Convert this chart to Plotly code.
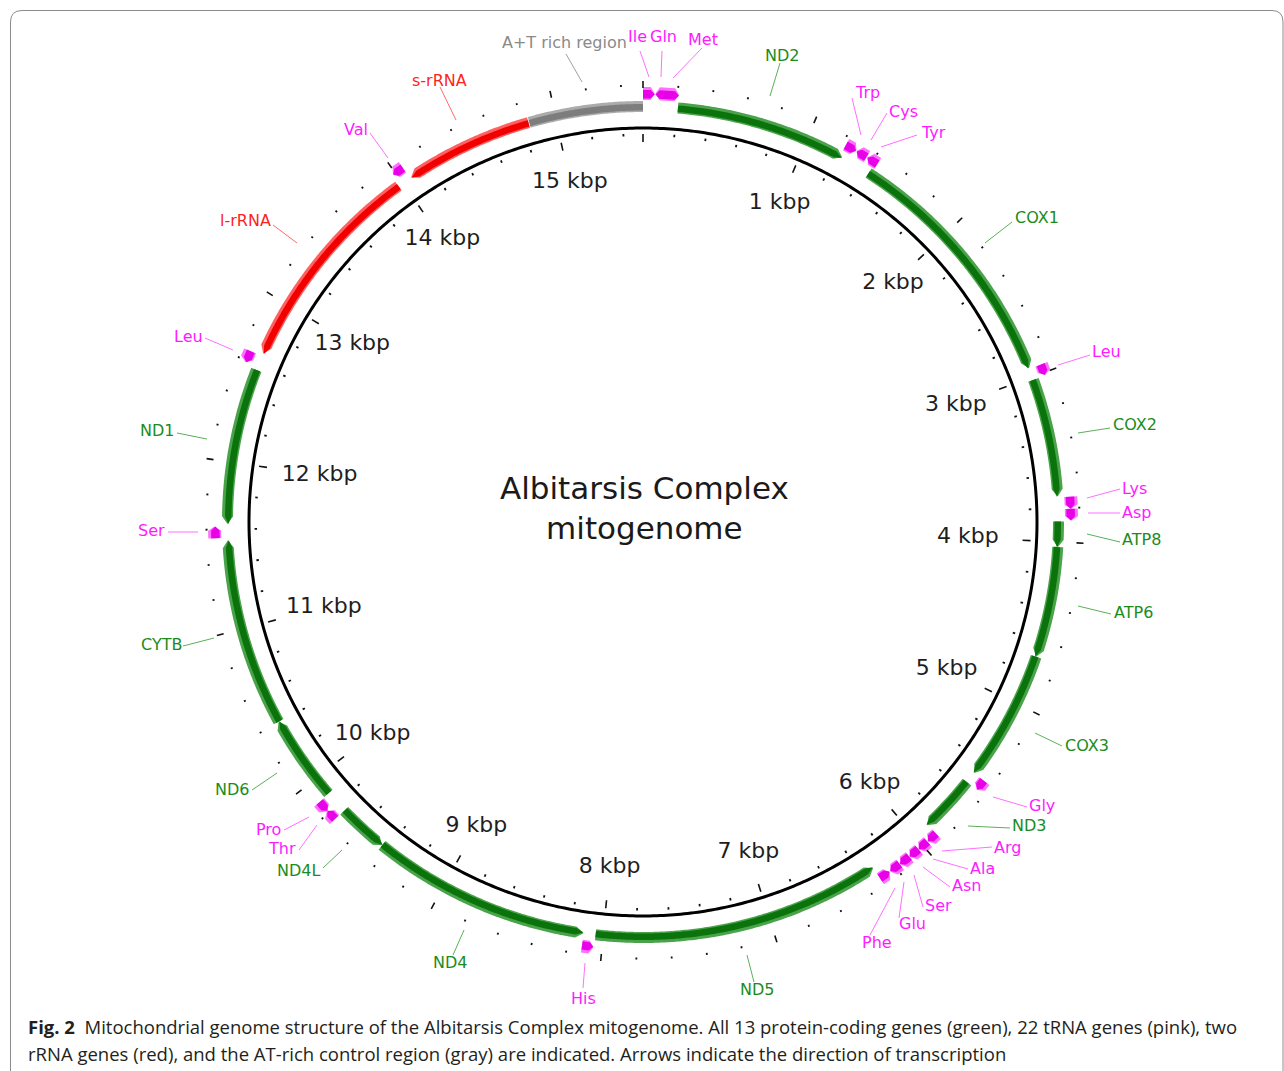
import numpy as np
import plotly.graph_objects as go

# ---------------------------------------------------------------- data
GENOME_LEN = 15525  # bp

feat_name = ["Ile", "Gln", "Met", "ND2", "Trp", "Cys", "Tyr", "COX1", "Leu", "COX2",
             "Lys", "Asp", "ATP8", "ATP6", "COX3", "Gly", "ND3", "Arg", "Ala", "Asn",
             "Ser", "Glu", "Phe", "ND5", "His", "ND4", "ND4L", "Thr", "Pro", "ND6",
             "CYTB", "Ser", "ND1", "Leu", "l-rRNA", "Val", "s-rRNA", "A+T rich region"]
feat_kind = ["trna", "trna", "trna", "gene", "trna", "trna", "trna", "gene", "trna", "gene",
             "trna", "trna", "gene", "gene", "gene", "trna", "gene", "trna", "trna", "trna",
             "trna", "trna", "trna", "gene", "trna", "gene", "gene", "trna", "trna", "gene",
             "gene", "trna", "gene", "trna", "rrna", "trna", "rrna", "ctrl"]
feat_start = [0, 72, 140, 208, 1220, 1292, 1364, 1418, 2950, 3018,
              3735, 3805, 3878, 4030, 4697, 5486, 5553, 5898, 5966, 6034,
              6102, 6172, 6245, 6312, 8050, 8118, 9440, 9748, 9812, 9885,
              10405, 11550, 11632, 12590, 12675, 13985, 14062, 14840]
feat_end = [68, 140, 208, 1235, 1288, 1358, 1432, 2945, 3015, 3730,
            3805, 3872, 4032, 4697, 5483, 5550, 5903, 5962, 6032, 6100,
            6170, 6240, 6312, 8045, 8116, 9440, 9745, 9812, 9880, 10405,
            11535, 11618, 12570, 12658, 13970, 14052, 14835, 15525]
feat_strand = [1, -1, 1, 1, 1, -1, -1, 1, 1, 1,
               1, 1, 1, 1, 1, 1, 1, 1, 1, 1,
               1, 1, -1, -1, -1, -1, -1, 1, -1, 1,
               1, 1, -1, -1, -1, -1, -1, 0]

tick_step = 200
kbp_marks = list(range(1, 16))

# feature labels: text, colour group, leader line (inner -> outer), text anchor point
lab_text = ["A+T rich region", "Ile", "Gln", "Met", "ND2", "Trp", "Cys", "Tyr",
            "COX1", "Leu", "COX2", "Lys", "Asp", "ATP8", "ATP6", "COX3", "Gly", "ND3",
            "Arg", "Ala", "Asn", "Ser", "Glu", "Phe", "ND5", "His", "ND4",
            "ND4L", "Thr", "Pro", "ND6", "CYTB", "Ser", "ND1", "Leu", "l-rRNA", "Val", "s-rRNA"]
lab_kind = ["ctrl", "trna", "trna", "trna", "gene", "trna", "trna", "trna",
            "gene", "trna", "gene", "trna", "trna", "gene", "gene", "gene", "trna", "gene",
            "trna", "trna", "trna", "trna", "trna", "trna", "gene", "trna", "gene",
            "gene", "trna", "trna", "gene", "gene", "trna", "gene", "trna", "rrna", "trna", "rrna"]
lab_line = [(582, 82, 566, 54), (649, 77, 640, 51), (661, 77, 662, 51), (673, 78, 702, 48),
            (770, 96, 780, 63), (861, 135, 852, 98), (871, 140, 887, 113), (881, 147, 917, 135),
            (985, 243, 1012, 222), (1058, 365, 1090, 355), (1078, 433, 1110, 428),
            (1087, 498, 1120, 489), (1088, 513, 1120, 513), (1087, 534, 1120, 542),
            (1078, 606, 1111, 614), (1035, 733, 1062, 746), (993, 797, 1027, 807),
            (968, 826, 1010, 828), (942, 851, 992, 847), (933, 859, 968, 869),
            (923, 867, 950, 887), (914, 875, 923, 907), (904, 882, 899, 918),
            (895, 888, 870, 935), (747, 955, 754, 982), (585, 963, 583, 988),
            (464, 930, 453, 955), (342, 850, 323, 868), (317, 825, 299, 850),
            (309, 817, 284, 830), (277, 773, 252, 790), (214, 638, 183, 646),
            (198, 532, 168, 532), (207, 439, 177, 433), (233, 350, 205, 338),
            (297, 243, 273, 225), (388, 158, 370, 133), (456, 120, 440, 87)]
lab_pos = [(564, 42), (637, 36), (663, 36), (703, 39), (782, 55), (853, 92), (887, 111),
           (919, 132), (1013, 217), (1090, 351), (1111, 424), (1120, 488), (1120, 512),
           (1120, 539), (1112, 612), (1063, 745), (1027, 805), (1010, 825), (992, 847),
           (968, 868), (950, 885), (923, 905), (897, 923), (877, 942), (757, 989),
           (583, 998), (450, 962), (322, 870), (298, 848), (283, 829), (251, 789),
           (184, 644), (167, 530), (176, 430), (205, 336), (273, 220), (370, 129), (439, 80)]
lab_anchor = ["center", "center", "center", "center", "center", "left", "left", "left",
              "left", "left", "left", "left", "left", "left", "left", "left", "left", "left",
              "left", "left", "left", "left", "left", "center", "center", "center", "center",
              "right", "right", "right", "right", "right", "right", "right", "right", "right",
              "right", "center"]

caption_1 = ("<b>Fig. 2</b>\u00a0\u00a0Mitochondrial genome structure of the Albitarsis Complex "
             "mitogenome. All 13 protein-coding genes (green), 22 tRNA genes (pink), two")
caption_2 = ("rRNA genes (red), and the AT-rich control region (gray) are indicated. "
             "Arrows indicate the direction of transcription")

# ---------------------------------------------------------------- styling
W, H = 1284, 1071
CX, CY, RPIX = 643, 522, 520          # circle centre and polar radius in pixels
R_BACKBONE = 394
LANE = {"gene": (410, 421), "rrna": (410, 421), "ctrl": (410, 421), "trna": (422, 435)}
FILL_CORE = {"gene": "#0b730b", "trna": "#e800e8", "rrna": "#f20000", "ctrl": "#7d7d7d"}
FILL_EDGE = {"gene": "#4aa34a", "trna": "#ff70ff", "rrna": "#ff6060", "ctrl": "#ababab"}
TEXT_COL = {"gene": "#1b8c1b", "trna": "#ff1aff", "rrna": "#ff1f1f", "ctrl": "#8a8a8a"}
LINE_COL = {"gene": "#5cb05c", "trna": "#ff70ff", "rrna": "#ff6a6a", "ctrl": "#a0a0a0"}
FONT = "DejaVu Sans"


def deg(bp):
    return np.asarray(bp, dtype=float) / GENOME_LEN * 360.0


def arrow_outline(s, e, strand, r0, r1, head):
    """Outline (r, theta) of an arc block with an arrow tip on its 3' end."""
    h = min(head, 0.45 * (e - s)) if strand else 0.0
    rm = 0.5 * (r0 + r1)
    if strand >= 0:
        a, b = s, e - h
    else:
        a, b = s + h, e
    n = max(int((b - a) / 12), 2)
    arc = np.linspace(a, b, n)
    r = list(np.full(n, r1)) + list(np.full(n, r0))
    t = list(arc) + list(arc[::-1])
    if strand > 0:
        r = list(np.full(n, r1)) + [rm] + list(np.full(n, r0))
        t = list(arc) + [e] + list(arc[::-1])
    elif strand < 0:
        r = r + [rm]
        t = t + [s]
    r.append(r[0])
    t.append(t[0])
    return r, list(deg(t))


fig = go.Figure()

# feature blocks, grouped by colour: lighter rim first, darker core on top
for kind in ["ctrl", "rrna", "gene", "trna"]:
    for layer in ("edge", "core"):
        rr, tt = [], []
        for s, e, st, k in zip(feat_start, feat_end, feat_strand, feat_kind):
            if k != kind:
                continue
            r0, r1 = LANE[k]
            head = 24 if k == "trna" else 45
            if layer == "core":
                r0, r1 = r0 + 1.5, r1 - 3.0
            r, t = arrow_outline(s, e, st, r0, r1, head)
            rr += r + [None]
            tt += t + [None]
        fig.add_trace(go.Scatterpolar(
            r=rr, theta=tt, mode="lines", fill="toself",
            fillcolor=FILL_EDGE[kind] if layer == "edge" else FILL_CORE[kind],
            line=dict(width=0), hoverinfo="skip", showlegend=False))

# backbone circle
circ_t = np.linspace(0, 360, 721)
fig.add_trace(go.Scatterpolar(r=np.full(circ_t.size, R_BACKBONE), theta=circ_t, mode="lines",
                              line=dict(color="#000000", width=3), hoverinfo="skip",
                              showlegend=False))

# scale ticks (inside the backbone and on an outer ring)
tick_bp = np.arange(0, GENOME_LEN, tick_step)
for major in (False, True):
    sel = tick_bp[(tick_bp % 1000 == 0) == major]
    rr, tt = [], []
    for bp in sel:
        th = float(deg(bp))
        inner = (380, 388) if major else (386, 388.5)
        outer = (434, 441) if major else (435.5, 437.5)
        for a, b in (inner, outer):
            rr += [a, b, None]
            tt += [th, th, None]
    fig.add_trace(go.Scatterpolar(r=rr, theta=tt, mode="lines",
                                  line=dict(color="#111111", width=1.6 if major else 1.8),
                                  hoverinfo="skip", showlegend=False))

# kbp scale labels
kbp_bp = np.array(kbp_marks) * 1000
kbp_t = deg(kbp_bp)
kbp_r = 347 - 22 * np.abs(np.sin(np.radians(kbp_t))) ** 8
fig.add_trace(go.Scatterpolar(r=kbp_r, theta=kbp_t, mode="text",
                              text=[f"{k} kbp" for k in kbp_marks],
                              textfont=dict(family=FONT, size=22, color="#1e1e1e"),
                              cliponaxis=False, hoverinfo="skip", showlegend=False))

# leader lines for the feature labels
for kind in ["gene", "trna", "rrna", "ctrl"]:
    xs, ys = [], []
    for (x1, y1, x2, y2), k in zip(lab_line, lab_kind):
        if k == kind:
            xs += [x1, x2, None]
            ys += [y1, y2, None]
    fig.add_trace(go.Scatter(x=xs, y=ys, mode="lines", line=dict(color=LINE_COL[kind], width=1),
                             hoverinfo="skip", showlegend=False, xaxis="x", yaxis="y"))

annotations = []
for txt, k, (x, y), anc in zip(lab_text, lab_kind, lab_pos, lab_anchor):
    annotations.append(dict(x=x, y=y, xref="x", yref="y", text=txt, showarrow=False,
                            xanchor=anc, yanchor="middle",
                            font=dict(family=FONT, size=16, color=TEXT_COL[k])))

# title in the middle of the map
annotations.append(dict(x=CX + 1, y=508, xref="x", yref="y",
                        text="Albitarsis Complex<br>mitogenome", showarrow=False,
                        xanchor="center", yanchor="middle",
                        font=dict(family=FONT, size=31, color="#1a1a1a")))

# figure caption
for i, cap in enumerate((caption_1, caption_2)):
    annotations.append(dict(x=26, y=1026 + 27 * i, xref="x", yref="y", text=cap,
                            showarrow=False, xanchor="left", yanchor="middle",
                            font=dict(family="Open Sans", size=18.5, color="#231f20")))

fig.update_layout(
    width=W, height=H,
    margin=dict(l=0, r=0, t=0, b=0),
    paper_bgcolor="white", plot_bgcolor="rgba(0,0,0,0)",
    polar=dict(
        domain=dict(x=[(CX - RPIX) / W, (CX + RPIX) / W],
                    y=[1 - (CY + RPIX) / H, 1 - (CY - RPIX) / H]),
        bgcolor="rgba(0,0,0,0)",
        radialaxis=dict(range=[0, RPIX], visible=False, showgrid=False),
        angularaxis=dict(rotation=90, direction="clockwise", visible=False,
                         showgrid=False, showline=False, ticks=""),
    ),
    xaxis=dict(range=[0, W], domain=[0, 1], visible=False, fixedrange=True),
    yaxis=dict(range=[H, 0], domain=[0, 1], visible=False, fixedrange=True),
    annotations=annotations,
    shapes=[dict(type="path", xref="x", yref="y",
                 path="M 10.5,1090 L 10.5,22 Q 10.5,10.5 22,10.5 L 1272,10.5 "
                      "Q 1283,10.5 1283,22 L 1283,1090",
                 line=dict(color="#8c8c8c", width=1))],
    showlegend=False,
)

fig.write_html("out.html")
